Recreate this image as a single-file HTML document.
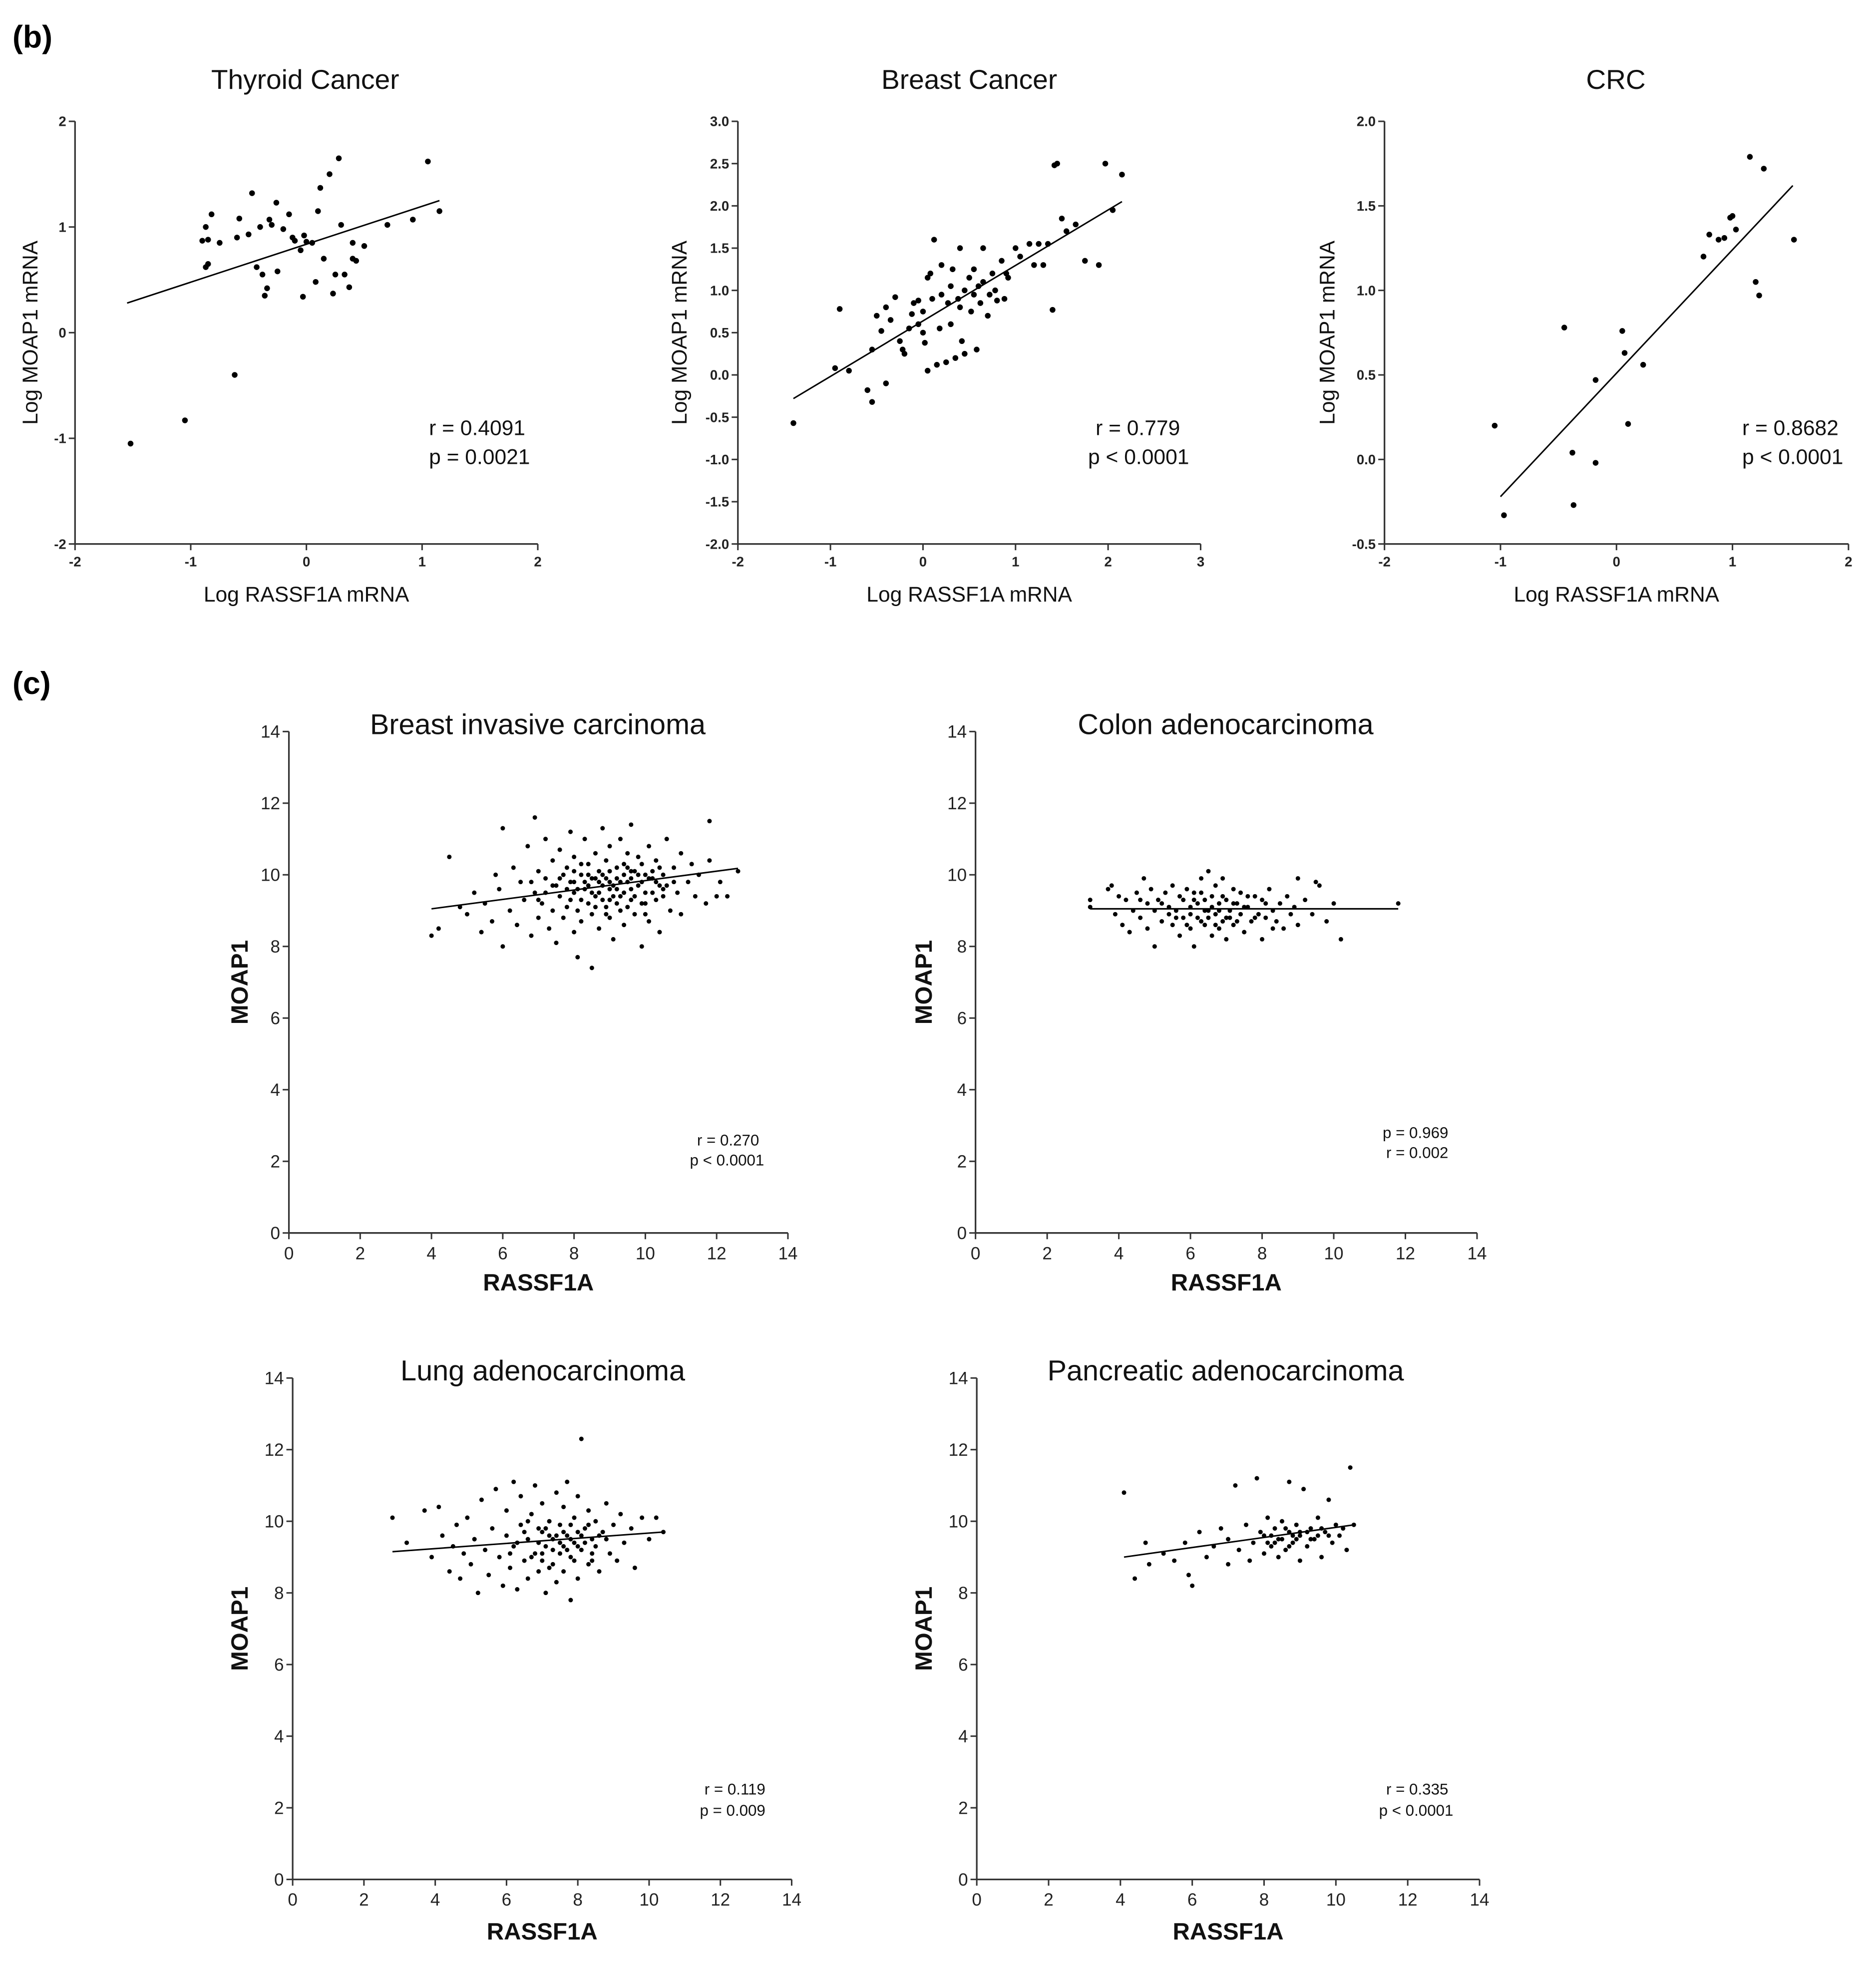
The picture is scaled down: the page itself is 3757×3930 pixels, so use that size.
<!DOCTYPE html>
<html><head><meta charset="utf-8">
<style>
html,body{margin:0;padding:0;background:#fff;}
svg{display:block;}
text{font-family:"Liberation Sans",sans-serif;}
</style></head>
<body>
<svg id="fig" width="3757" height="3930" viewBox="0 0 1500 1569" xmlns="http://www.w3.org/2000/svg">
<text x="10" y="38" font-size="25" font-weight="bold">(b)</text>
<text x="10" y="555" font-size="25" font-weight="bold">(c)</text>
</svg>
<script>
// ---- data (b) ----
const thyroidPts = [[-1.52,-1.05],[-1.05,-0.83],[-0.62,-0.4],[-0.9,0.87],[-0.85,0.88],[-0.82,1.12],[-0.87,0.62],[-0.85,0.65],[-0.87,1.0],[-0.75,0.85],[-0.6,0.9],[-0.58,1.08],[-0.5,0.93],[-0.47,1.32],[-0.43,0.62],[-0.4,1.0],[-0.38,0.55],[-0.36,0.35],[-0.34,0.42],[-0.32,1.07],[-0.3,1.02],[-0.26,1.23],[-0.25,0.58],[-0.2,0.98],[-0.15,1.12],[-0.12,0.9],[-0.1,0.87],[-0.05,0.78],[-0.03,0.34],[-0.02,0.92],[0.0,0.86],[0.05,0.85],[0.08,0.48],[0.1,1.15],[0.12,1.37],[0.15,0.7],[0.2,1.5],[0.23,0.37],[0.25,0.55],[0.28,1.65],[0.3,1.02],[0.33,0.55],[0.37,0.43],[0.4,0.7],[0.4,0.85],[0.43,0.68],[0.5,0.82],[0.7,1.02],[0.92,1.07],[1.05,1.62],[1.15,1.15]];
const thyroidFit = [[-1.55,0.28],[1.15,1.25]];
const breastPts = [[-1.4,-0.57],[-0.95,0.08],[-0.9,0.78],[-0.8,0.05],[-0.6,-0.18],[-0.55,-0.32],[-0.55,0.3],[-0.5,0.7],[-0.45,0.52],[-0.4,-0.1],[-0.4,0.8],[-0.35,0.65],[-0.3,0.92],[-0.25,0.4],[-0.22,0.3],[-0.2,0.25],[-0.15,0.55],[-0.12,0.72],[-0.1,0.85],[-0.05,0.6],[-0.05,0.88],[0,0.5],[0.0,0.75],[0.02,0.38],[0.05,0.05],[0.05,1.15],[0.08,1.2],[0.1,0.9],[0.12,1.6],[0.15,0.12],[0.18,0.55],[0.2,0.95],[0.2,1.3],[0.25,0.15],[0.27,0.85],[0.3,0.6],[0.3,1.05],[0.32,1.25],[0.35,0.2],[0.38,0.9],[0.4,1.5],[0.4,0.8],[0.42,0.4],[0.45,1.0],[0.45,0.25],[0.5,1.15],[0.52,0.75],[0.55,1.25],[0.55,0.95],[0.58,0.3],[0.6,1.05],[0.62,0.85],[0.65,1.5],[0.65,1.1],[0.7,0.7],[0.72,0.95],[0.75,1.2],[0.78,1.0],[0.8,0.88],[0.85,1.35],[0.88,0.9],[0.9,1.2],[0.92,1.15],[1.0,1.5],[1.05,1.4],[1.15,1.55],[1.2,1.3],[1.25,1.55],[1.3,1.3],[1.35,1.55],[1.4,0.77],[1.42,2.48],[1.45,2.5],[1.5,1.85],[1.55,1.7],[1.65,1.78],[1.75,1.35],[1.9,1.3],[1.97,2.5],[2.05,1.95],[2.15,2.37]];
const breastFit = [[-1.4,-0.28],[2.15,2.05]];
const crcPts = [[-1.05,0.2],[-0.97,-0.33],[-0.45,0.78],[-0.38,0.04],[-0.37,-0.27],[-0.18,0.47],[-0.18,-0.02],[0.05,0.76],[0.07,0.63],[0.1,0.21],[0.23,0.56],[0.75,1.2],[0.8,1.33],[0.88,1.3],[0.93,1.31],[0.98,1.43],[1.0,1.44],[1.03,1.36],[1.15,1.79],[1.2,1.05],[1.23,0.97],[1.27,1.72],[1.53,1.3]];
const crcFit = [[-1.0,-0.22],[1.52,1.62]];
// ---- data (c) ----
const bicPts = [[4.0,8.3],[4.2,8.5],[4.5,10.5],[4.8,9.1],[5.0,8.9],[5.2,9.5],[5.4,8.4],[5.5,9.2],[5.7,8.7],[5.8,10.0],[5.9,9.6],[6.0,11.3],[6.0,8.0],[6.2,9.0],[6.3,10.2],[6.4,8.6],[6.5,9.8],[6.6,9.3],[6.7,10.8],[6.8,8.3],[6.9,11.6],[6.9,9.5],[7.0,10.1],[7.0,8.8],[7.1,9.2],[7.2,11.0],[7.2,9.9],[7.3,8.5],[7.4,10.4],[7.4,9.0],[7.5,9.7],[7.5,8.1],[7.6,10.7],[7.6,9.4],[7.7,8.8],[7.8,10.2],[7.8,9.1],[7.9,11.2],[7.9,9.8],[8.0,8.4],[8.0,10.5],[8.0,9.5],[8.1,7.7],[8.1,9.0],[8.2,10.0],[8.2,8.7],[8.3,11.0],[8.3,9.6],[8.4,10.3],[8.4,9.2],[8.5,7.4],[8.5,8.9],[8.5,9.9],[8.6,10.6],[8.6,9.4],[8.7,8.5],[8.7,10.1],[8.8,9.7],[8.8,11.3],[8.9,9.1],[8.9,10.4],[9.0,8.8],[9.0,9.8],[9.0,10.8],[9.1,9.4],[9.1,8.2],[9.2,10.2],[9.2,9.6],[9.3,11.0],[9.3,9.0],[9.4,10.0],[9.4,8.6],[9.5,9.8],[9.5,10.6],[9.6,9.3],[9.6,11.4],[9.7,10.1],[9.7,8.9],[9.8,9.7],[9.8,10.5],[9.9,9.2],[9.9,8.0],[10.0,10.0],[10.0,9.5],[10.1,10.8],[10.1,8.7],[10.2,9.9],[10.3,9.3],[10.3,10.4],[10.4,8.4],[10.5,10.0],[10.5,9.6],[10.6,11.0],[10.7,9.0],[10.8,10.2],[10.9,9.5],[11.0,10.6],[11.0,8.9],[11.2,9.8],[11.3,10.3],[11.4,9.4],[11.5,10.0],[11.7,9.2],[11.8,11.5],[11.8,10.4],[12.0,9.4],[12.1,9.8],[12.3,9.4],[12.6,10.1],[8.6,9.9],[9.2,9.9],[9.6,9.9],[8.0,9.8],[10.4,9.7],[7.2,9.5],[9.0,9.3],[8.8,10.0],[9.4,10.3],[10.2,10.1],
 [7.6,9.9],[7.8,9.6],[8.0,10.1],[8.2,9.3],[8.3,9.8],[8.4,10.0],[8.5,9.5],[8.6,9.1],[8.7,9.8],[8.8,9.3],[8.9,9.9],[9.0,10.1],[9.1,9.7],[9.2,9.2],[9.3,9.8],[9.4,9.5],[9.5,10.2],[9.6,9.6],[9.7,9.4],[9.8,10.0],[9.9,9.8],[10.0,9.2],[10.1,9.9],[10.2,9.5],[10.3,9.8],[10.4,10.2],[10.6,9.7],[10.8,9.8],[7.4,9.7],[7.9,9.3],[8.1,9.6],[8.4,9.7],[8.7,9.5],[9.0,9.6],[9.3,9.4],[9.6,10.1],[9.9,10.3],[10.5,9.4],[8.2,10.3],[8.9,8.9],[9.5,9.1],[10.0,8.9],[7.0,9.3],[6.8,9.8],[7.7,10.0]];
const bicFit = [[4.0,9.05],[12.6,10.18]];
const colonPts = [[3.2,9.3],[3.2,9.1],[3.7,9.6],[3.8,9.7],[3.9,8.9],[4.0,9.4],[4.1,8.6],[4.2,9.3],[4.3,8.4],[4.4,9.0],[4.5,9.5],[4.6,8.8],[4.7,9.9],[4.8,9.2],[4.8,8.5],[4.9,9.6],[5.0,9.0],[5.0,8.0],[5.1,9.3],[5.2,8.7],[5.3,9.5],[5.4,9.1],[5.5,8.6],[5.5,9.7],[5.6,9.0],[5.7,8.3],[5.7,9.4],[5.8,8.8],[5.9,9.6],[6.0,9.1],[6.0,8.5],[6.1,8.0],[6.1,9.3],[6.2,8.8],[6.3,9.9],[6.3,9.5],[6.4,8.6],[6.5,9.0],[6.5,10.1],[6.6,8.3],[6.6,9.4],[6.7,8.9],[6.7,9.7],[6.8,8.5],[6.8,9.2],[6.9,9.9],[6.9,8.7],[7.0,9.3],[7.0,8.2],[7.1,9.0],[7.2,9.6],[7.2,8.6],[7.3,9.2],[7.4,8.9],[7.4,9.5],[7.5,8.4],[7.6,9.1],[7.7,8.7],[7.8,9.4],[7.9,8.9],[8.0,8.2],[8.0,9.3],[8.1,8.8],[8.2,9.6],[8.3,9.0],[8.4,8.7],[8.5,9.2],[8.6,8.5],[8.7,9.4],[8.8,8.9],[8.9,9.1],[9.0,9.9],[9.0,8.6],[9.2,9.3],[9.4,8.9],[9.5,9.8],[9.6,9.7],[9.8,8.7],[10.0,9.2],[10.2,8.2],[11.8,9.2],[6.2,9.2],[6.8,9.0],[7.5,9.1],[5.4,8.9],[6.4,9.3],[7.0,8.8],
 [5.2,9.2],[5.6,8.8],[5.8,9.3],[6.0,8.9],[6.1,9.5],[6.3,8.7],[6.4,9.0],[6.6,9.1],[6.7,8.6],[6.9,9.4],[7.1,8.8],[7.3,8.7],[7.6,9.4],[7.8,8.8],[8.1,9.2],[8.3,8.5],[5.9,8.6],[6.5,8.8],[7.2,9.2],[4.6,9.3]];
const colonFit = [[3.2,9.05],[11.8,9.05]];
const lungPts = [[2.8,10.1],[3.2,9.4],[3.7,10.3],[3.9,9.0],[4.1,10.4],[4.2,9.6],[4.4,8.6],[4.5,9.3],[4.6,9.9],[4.7,8.4],[4.8,9.1],[4.9,10.1],[5.0,8.8],[5.1,9.5],[5.2,8.0],[5.3,10.6],[5.4,9.2],[5.5,8.5],[5.6,9.8],[5.7,10.9],[5.8,9.0],[5.9,8.2],[6.0,9.6],[6.0,10.3],[6.1,8.7],[6.2,11.1],[6.2,9.3],[6.3,8.1],[6.4,9.9],[6.4,10.7],[6.5,8.9],[6.6,9.5],[6.6,8.4],[6.7,10.2],[6.8,9.1],[6.8,11.0],[6.9,8.6],[7.0,9.7],[7.0,10.5],[7.1,8.0],[7.1,9.3],[7.2,10.0],[7.3,8.8],[7.3,9.5],[7.4,10.8],[7.4,8.3],[7.5,9.1],[7.5,9.9],[7.6,10.4],[7.6,8.6],[7.7,9.6],[7.7,11.1],[7.8,9.0],[7.8,7.8],[7.9,10.1],[7.9,9.4],[8.0,8.4],[8.0,10.7],[8.1,9.2],[8.1,12.3],[8.2,9.8],[8.3,8.8],[8.3,10.3],[8.4,9.5],[8.5,10.0],[8.6,8.6],[8.7,9.7],[8.8,10.5],[8.9,9.1],[9.0,9.9],[9.1,8.9],[9.2,10.2],[9.3,9.4],[9.5,9.8],[9.6,8.7],[9.8,10.1],[10.0,9.5],[10.2,10.1],[10.4,9.7],[7.2,9.6],[7.6,9.3],[8.0,9.7],[6.9,9.4],[7.8,9.9],[8.4,9.1],[6.5,9.7],
 [6.7,9.0],[6.9,9.8],[7.0,9.1],[7.1,9.8],[7.3,9.2],[7.4,9.6],[7.5,9.4],[7.6,9.7],[7.7,9.2],[7.8,9.5],[7.9,8.9],[8.0,9.3],[8.1,9.6],[8.2,9.4],[8.3,9.9],[8.5,9.3],[8.6,9.6],[6.3,9.4],[6.6,10.0],[7.2,8.7],[8.4,8.9],[7.0,8.9],[6.1,9.1],[8.8,9.5]];
const lungFit = [[2.8,9.15],[10.4,9.7]];
const pancPts = [[4.1,10.8],[4.4,8.4],[4.7,9.4],[4.8,8.8],[5.2,9.1],[5.5,8.9],[5.8,9.4],[5.9,8.5],[6.0,8.2],[6.2,9.7],[6.4,9.0],[6.6,9.3],[6.8,9.8],[7.0,8.8],[7.0,9.5],[7.2,11.0],[7.3,9.2],[7.5,9.9],[7.6,8.9],[7.7,9.4],[7.8,11.2],[7.9,9.7],[8.0,9.1],[8.0,9.6],[8.1,10.1],[8.2,9.3],[8.3,9.8],[8.4,9.0],[8.4,9.5],[8.5,10.0],[8.6,9.2],[8.7,9.7],[8.7,11.1],[8.8,9.4],[8.9,9.9],[9.0,8.9],[9.0,9.6],[9.1,10.9],[9.2,9.3],[9.3,9.8],[9.4,9.5],[9.5,10.1],[9.6,9.0],[9.7,9.7],[9.8,10.6],[9.9,9.4],[10.0,9.9],[10.1,9.6],[10.3,9.2],[10.4,11.5],[10.5,9.9],[8.5,9.5],[9.0,9.7],[8.1,9.4],[9.5,9.6],[8.8,9.6],
 [8.2,9.6],[8.6,9.8],[8.9,9.5],[9.2,9.7],[9.3,9.5],[9.6,9.8],[9.8,9.6],[10.2,9.8],[8.3,9.4],[8.7,9.3]];
const pancFit = [[4.1,9.0],[10.5,9.9]];

const svg = document.getElementById('fig');
const NS = 'http://www.w3.org/2000/svg';
function mk(tag, attrs, parent){
  const e = document.createElementNS(NS, tag);
  for (const k in attrs) e.setAttribute(k, attrs[k]);
  (parent||svg).appendChild(e);
  return e;
}
function plot(cfg){
  const g = mk('g', {});
  
  
  const sx = v => cfg.x0 + (v - cfg.xmin) / (cfg.xmax - cfg.xmin) * (cfg.x1 - cfg.x0);
  const sy = v => cfg.y0 - (v - cfg.ymin) / (cfg.ymax - cfg.ymin) * (cfg.y0 - cfg.y1);
  const ya = mk('line', {x1:cfg.x0, y1:cfg.y0, x2:cfg.x0, y2:cfg.y1, stroke:'#333', 'stroke-width':1.3}, g);
  
  
  const xa = mk('line', {x1:cfg.x0, y1:cfg.y0, x2:cfg.x1, y2:cfg.y0, stroke:'#333', 'stroke-width':1.3}, g);
  
  
  cfg.yticks.forEach((v, i) => {
    const y = sy(v);
    mk('line', {x1:cfg.x0 - 5, y1:y, x2:cfg.x0, y2:y, stroke:'#333', 'stroke-width':1.2}, g);
    const t = mk('text', {x:cfg.x0 - 7, y:y + cfg.tf*0.35, 'font-size':cfg.tf, 'text-anchor':'end', fill:'#222', 'font-weight':cfg.tb}, g);
    t.textContent = cfg.ylabels[i];
    
    
  });
  cfg.xticks.forEach((v, i) => {
    const x = sx(v);
    mk('line', {x1:x, y1:cfg.y0, x2:x, y2:cfg.y0 + 5, stroke:'#333', 'stroke-width':1.2}, g);
    const t = mk('text', {x:x, y:cfg.y0 + 7 + cfg.tf, 'font-size':cfg.tf, 'text-anchor':'middle', fill:'#222', 'font-weight':cfg.tb}, g);
    t.textContent = cfg.xlabels[i];
    
    
  });
  cfg.pts.forEach(p => {
    const c = mk('circle', {cx:sx(p[0]), cy:sy(p[1]), r:cfg.r, fill:'#000'}, g);
    
    
  });
  const fl = mk('line', {x1:sx(cfg.fit[0][0]), y1:sy(cfg.fit[0][1]), x2:sx(cfg.fit[1][0]), y2:sy(cfg.fit[1][1]), stroke:'#000', 'stroke-width':1.2}, g);
  
  
  const tt = mk('text', {x:cfg.titleX, y:cfg.titleY, 'font-size':cfg.titleF, 'text-anchor':'middle', fill:'#111'}, g);
  tt.textContent = cfg.title;
  
  
  const xl = mk('text', {x:(cfg.x0 + cfg.x1)/2, y:cfg.xlY, 'font-size':cfg.labF, 'text-anchor':'middle', fill:'#111', 'font-weight':cfg.lb}, g);
  xl.textContent = cfg.xlab;
  
  
  const cy = (cfg.y0 + cfg.y1)/2;
  const yl = mk('text', {x:cfg.ylX, y:cy, 'font-size':cfg.labF, 'text-anchor':'middle', fill:'#111', 'font-weight':cfg.lb, transform:'rotate(-90 ' + cfg.ylX + ' ' + cy + ')'}, g);
  yl.textContent = cfg.ylab;
  
  
  cfg.notes.forEach(n => {
    const a = mk('text', {x:n[0], y:n[1], 'font-size':cfg.noteF, 'text-anchor':cfg.noteA, fill:'#111'}, g);
    a.textContent = n[2];
    
    
  });
}
const bBase = {tf:11, tb:'bold', r:2.3, titleY:71, titleF:22, xlY:481, labF:17, lb:'normal', noteF:17, noteA:'start', y0:435, y1:97, xlab:'Log RASSF1A mRNA', ylab:'Log MOAP1 mRNA'};
plot(Object.assign({}, bBase, {name:'thyroid-cancer-chart', x0:60, x1:430, xmin:-2, xmax:2, ymin:-2, ymax:2,
  xticks:[-2,-1,0,1,2], xlabels:['-2','-1','0','1','2'], yticks:[-2,-1,0,1,2], ylabels:['-2','-1','0','1','2'],
  pts:thyroidPts, fit:thyroidFit, title:'Thyroid Cancer', titleX:244, ylX:30, notes:[[343,348,'r = 0.4091'],[343,371,'p = 0.0021']]}));
plot(Object.assign({}, bBase, {name:'breast-cancer-chart', x0:590, x1:960, xmin:-2, xmax:3, ymin:-2, ymax:3,
  xticks:[-2,-1,0,1,2,3], xlabels:['-2','-1','0','1','2','3'], yticks:[-2,-1.5,-1,-0.5,0,0.5,1,1.5,2,2.5,3],
  ylabels:['-2.0','-1.5','-1.0','-0.5','0.0','0.5','1.0','1.5','2.0','2.5','3.0'],
  pts:breastPts, fit:breastFit, title:'Breast Cancer', titleX:775, ylX:549, notes:[[876,348,'r = 0.779'],[870,371,'p < 0.0001']]}));
plot(Object.assign({}, bBase, {name:'crc-chart', x0:1107, x1:1478, xmin:-2, xmax:2, ymin:-0.5, ymax:2,
  xticks:[-2,-1,0,1,2], xlabels:['-2','-1','0','1','2'], yticks:[-0.5,0,0.5,1,1.5,2], ylabels:['-0.5','0.0','0.5','1.0','1.5','2.0'],
  pts:crcPts, fit:crcFit, title:'CRC', titleX:1292, ylX:1067, notes:[[1393,348,'r = 0.8682'],[1393,371,'p < 0.0001']]}));
const cT = [0,2,4,6,8,10,12,14], cL = ['0','2','4','6','8','10','12','14'];
const cBase = {tf:14, tb:'normal', r:1.8, titleF:23, labF:19, lb:'bold', noteF:12.5, noteA:'end', xmin:0, xmax:14, ymin:0, ymax:14,
  xticks:cT, xlabels:cL, yticks:cT, ylabels:cL, xlab:'RASSF1A', ylab:'MOAP1'};
plot(Object.assign({}, cBase, {name:'breast-invasive-chart', x0:231, x1:630, y0:986, y1:585, xlY:1032, ylX:198,
  pts:bicPts, fit:bicFit, title:'Breast invasive carcinoma', titleX:430, titleY:587, notes:[[607,916,'r = 0.270'],[611,932,'p < 0.0001']]}));
plot(Object.assign({}, cBase, {name:'colon-adenocarcinoma-chart', x0:780, x1:1181, y0:986, y1:585, xlY:1032, ylX:745,
  pts:colonPts, fit:colonFit, title:'Colon adenocarcinoma', titleX:980, titleY:587, notes:[[1158,910,'p = 0.969'],[1158,926,'r = 0.002']]}));
plot(Object.assign({}, cBase, {name:'lung-adenocarcinoma-chart', x0:234, x1:633, y0:1503, y1:1102, xlY:1551, ylX:198,
  pts:lungPts, fit:lungFit, title:'Lung adenocarcinoma', titleX:434, titleY:1104, notes:[[612,1435,'r = 0.119'],[612,1452,'p = 0.009']]}));
plot(Object.assign({}, cBase, {name:'pancreatic-adenocarcinoma-chart', x0:781, x1:1183, y0:1503, y1:1102, xlY:1551, ylX:745,
  pts:pancPts, fit:pancFit, title:'Pancreatic adenocarcinoma', titleX:980, titleY:1104, notes:[[1158,1435,'r = 0.335'],[1162,1452,'p < 0.0001']]}));
</script>
</body></html>
